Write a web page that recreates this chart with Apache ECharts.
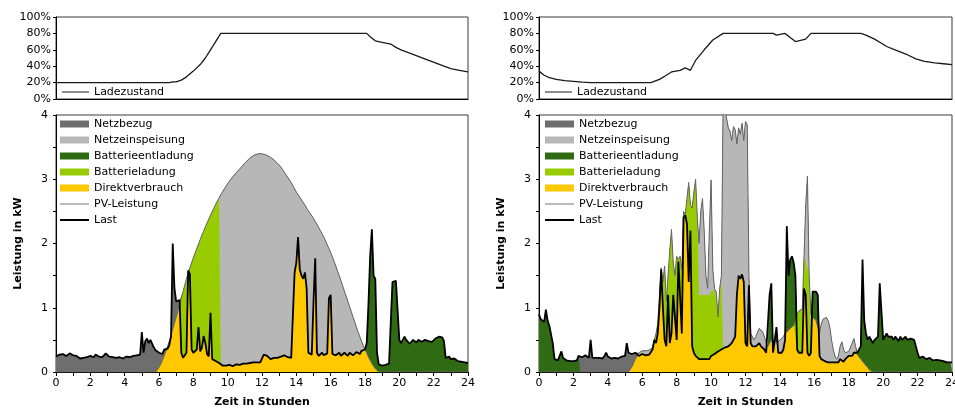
<!DOCTYPE html>
<html><head><meta charset="utf-8">
<script src="https://cdn.jsdelivr.net/npm/echarts@6/dist/echarts.min.js"></script>
<style>html,body{margin:0;padding:0;background:#fff}#c{width:955px;height:409px}</style>
</head><body><div id="c"></div>
<script>
// ---------- DATA (0.1 h resolution, index i -> hour i/10) ----------
const leftLoad = [
0.24,0.25,0.27,0.26,0.28,0.27,0.25,0.28,0.29,0.27,
0.26,0.28,0.25,0.22,0.21,0.23,0.22,0.24,0.23,0.22,
0.25,0.24,0.23,0.27,0.25,0.24,0.26,0.23,0.26,0.29,
0.27,0.24,0.25,0.23,0.24,0.22,0.21,0.23,0.22,0.21,
0.22,0.24,0.25,0.23,0.22,0.25,0.24,0.26,0.24,0.27,
0.62,0.3,0.48,0.52,0.45,0.5,0.47,0.38,0.34,0.33,
0.3,0.31,0.28,0.35,0.34,0.36,0.42,0.55,2.0,1.3,
1.1,1.08,1.12,0.3,0.22,0.25,0.3,1.58,1.52,0.35,
0.3,0.28,0.35,0.7,0.32,0.38,0.56,0.45,0.28,0.24,
0.92,0.2,0.18,0.17,0.15,0.14,0.12,0.1,0.11,0.1,
0.09,0.11,0.1,0.09,0.1,0.12,0.1,0.11,0.12,0.13,
0.12,0.13,0.12,0.14,0.13,0.15,0.14,0.15,0.16,0.15,
0.18,0.27,0.3,0.25,0.22,0.2,0.19,0.22,0.24,0.22,
0.21,0.24,0.22,0.26,0.25,0.23,0.24,0.22,0.25,1.55,
1.7,2.1,1.6,1.5,1.45,1.55,1.3,0.3,0.28,0.27,
1.1,1.77,0.3,0.25,0.27,0.3,0.26,0.28,0.29,1.15,
1.2,0.28,0.3,0.26,0.27,0.3,0.25,0.28,0.3,0.27,
0.25,0.3,0.28,0.26,0.29,0.31,0.3,0.28,0.33,0.3,
0.35,0.45,1.05,1.8,2.22,1.5,1.45,0.3,0.12,0.1,
0.1,0.12,0.11,0.12,0.13,0.14,1.4,1.38,1.42,1.45,
0.5,0.45,0.48,0.55,0.5,0.47,0.44,0.47,0.5,0.48,
0.46,0.5,0.52,0.47,0.45,0.5,0.52,0.48,0.5,0.47,
0.5,0.52,0.49,0.55,0.57,0.54,0.48,0.22,0.2,0.24,
0.2,0.18,0.21,0.19,0.17,0.2,0.16,0.15,0.15,0.14,
0.14];

const leftPv = [
0,0,0,0,0,0,0,0,0,0,
0,0,0,0,0,0,0,0,0,0,
0,0,0,0,0,0,0,0,0,0,
0,0,0,0,0,0,0,0,0,0,
0,0,0,0,0,0,0,0,0,0,
0,0,0,0,0,0,0,0,0,0.02,
0.07,0.12,0.18,0.25,0.32,0.4,0.48,0.57,0.66,0.76,
0.85,0.95,1.05,1.15,1.25,1.35,1.45,1.54,1.62,1.7,
1.78,1.85,1.92,1.99,2.06,2.13,2.19,2.26,2.32,2.38,
2.44,2.5,2.55,2.61,2.66,2.71,2.76,2.8,2.85,2.89,
2.93,2.97,3.0,3.04,3.07,3.1,3.13,3.16,3.19,3.22,
3.25,3.28,3.3,3.33,3.35,3.37,3.38,3.39,3.4,3.4,
3.4,3.39,3.38,3.37,3.36,3.34,3.32,3.3,3.28,3.25,
3.22,3.19,3.15,3.11,3.07,3.03,2.99,2.95,2.9,2.85,
2.8,2.76,2.72,2.68,2.64,2.6,2.55,2.51,2.47,2.43,
2.39,2.34,2.3,2.25,2.2,2.15,2.1,2.04,1.98,1.92,
1.86,1.79,1.72,1.65,1.57,1.5,1.42,1.34,1.26,1.18,
1.1,1.02,0.94,0.86,0.78,0.7,0.62,0.55,0.48,0.41,
0.35,0.29,0.23,0.18,0.13,0.09,0.05,0.02,0,0,
0,0,0,0,0,0,0,0,0,0,
0,0,0,0,0,0,0,0,0,0,
0,0,0,0,0,0,0,0,0,0,
0,0,0,0,0,0,0,0,0,0,
0,0,0,0,0,0,0,0,0,0,
0];

const rightLoad = [
0.9,0.82,0.8,0.78,0.97,0.8,0.72,0.7,0.45,0.2,
0.2,0.18,0.2,0.32,0.22,0.2,0.18,0.17,0.17,0.16,
0.17,0.16,0.18,0.25,0.24,0.23,0.25,0.26,0.24,0.22,
0.5,0.22,0.2,0.22,0.24,0.22,0.2,0.21,0.25,0.3,
0.24,0.22,0.21,0.23,0.22,0.2,0.21,0.22,0.24,0.23,
0.25,0.45,0.3,0.27,0.28,0.26,0.3,0.28,0.25,0.27,
0.28,0.3,0.26,0.25,0.27,0.3,0.35,0.5,0.45,0.6,
1.0,1.6,1.0,0.5,0.4,1.2,0.45,0.6,1.2,1.2,
0.5,1.72,1.7,0.6,2.4,2.44,2.3,1.4,2.2,0.4,
0.3,0.25,0.22,0.2,0.18,0.2,0.22,0.2,0.18,0.2,
0.25,0.22,0.28,0.3,0.32,0.3,0.35,0.36,0.38,0.37,
0.4,0.42,0.45,0.5,0.55,1.2,1.5,1.45,1.52,1.4,
0.45,0.4,1.35,0.45,0.4,0.38,0.4,0.42,0.45,0.4,
0.38,0.35,0.3,0.32,1.2,1.38,0.3,0.28,0.7,0.3,
0.28,0.3,0.35,0.5,2.27,1.5,1.75,1.8,1.7,1.5,
0.35,0.3,0.32,0.3,1.3,1.2,0.3,0.25,0.3,1.25,
1.24,1.25,1.2,0.25,0.2,0.18,0.17,0.18,0.15,0.16,
0.15,0.14,0.15,0.13,0.15,0.2,0.18,0.16,0.2,0.22,
0.25,0.28,0.25,0.3,0.28,0.3,0.35,0.4,1.75,0.8,
0.6,0.5,0.55,0.5,0.45,0.5,0.48,0.55,1.38,1.36,
0.5,0.55,0.6,0.55,0.58,0.55,0.5,0.55,0.52,0.48,
0.55,0.5,0.52,0.55,0.5,0.47,0.52,0.55,0.5,0.48,
0.3,0.22,0.2,0.24,0.22,0.2,0.23,0.22,0.2,0.18,
0.2,0.19,0.17,0.18,0.2,0.17,0.16,0.15,0.16,0.15,
0.15];

const rightPv = [
0,0,0,0,0,0,0,0,0,0,
0,0,0,0,0,0,0,0,0,0,
0,0,0,0,0,0,0,0,0,0,
0,0,0,0,0,0,0,0,0,0,
0,0,0,0,0,0,0,0,0,0,
0,0,0,0.03,0.08,0.14,0.2,0.25,0.3,0.32,
0.33,0.34,0.33,0.35,0.34,0.36,0.38,0.5,0.6,0.75,
1.2,1.62,1.4,1.65,1.1,1.5,1.9,2.22,1.7,1.5,
1.8,1.75,1.8,1.6,2.5,2.45,2.7,2.95,2.6,2.55,
2.8,3.0,2.4,2.0,2.5,2.7,2.2,1.5,1.3,2.2,
2.99,1.6,1.3,1.25,0.86,1.3,1.5,4.2,4.1,3.95,
3.8,3.75,3.6,3.82,3.77,3.55,3.8,3.7,3.87,3.6,
3.9,3.85,1.5,0.6,0.55,0.5,0.55,0.62,0.68,0.67,
0.62,0.55,0.45,0.4,0.45,0.5,0.45,0.5,0.45,0.48,
0.5,0.5,0.55,0.6,0.62,0.65,0.68,0.7,0.72,0.75,
0.9,0.95,0.92,0.98,1.8,2.6,3.05,1.5,0.9,0.85,
0.82,0.8,0.7,0.6,0.75,0.82,0.84,0.85,0.8,0.7,
0.5,0.35,0.25,0.2,0.25,0.4,0.47,0.35,0.3,0.3,
0.32,0.35,0.45,0.52,0.4,0.27,0.24,0.2,0.17,0.13,
0.1,0.07,0.03,0,0,0,0,0,0,0,
0,0,0,0,0,0,0,0,0,0,
0,0,0,0,0,0,0,0,0,0,
0,0,0,0,0,0,0,0,0,0,
0,0,0,0,0,0,0,0,0,0,
0];

// battery operating windows: [start h, end h, max charge kW] / [start h, end h]
const leftChargeWindows = [[5.5, 9.6, 9]];
const leftDischargeWindows = [[17.95, 24.1]];
const rightChargeWindows = [[6.6, 9.25, 9], [9.25, 10.65, 1.0], [14.95, 15.35, 9], [15.35, 15.55, 0.5], [15.55, 15.75, 1.4]];
const rightDischargeWindows = [[0, 2.35], [6.9, 24.1]];

// state of charge (hour, %)
const leftSocHours = [0,6.6,6.8,7.0,7.3,7.6,8.0,8.4,8.7,9.0,9.3,9.6,18.1,18.3,18.6,19.0,19.5,19.8,20.1,20.6,21.1,21.6,22.1,22.6,23.0,23.5,24];
const leftSoc      = [20,20,21,21,23,27,34,42,50,60,70,80,80,76,71,69,67,63,60,56,52,48,44,40,37,35,33];
const rightSocHours = [0,0.3,0.6,1.0,1.5,2.0,2.5,3.0,6.5,7.0,7.4,7.7,8.2,8.5,8.8,9.1,9.6,10.1,10.7,13.6,13.8,14.3,14.9,15.5,15.8,18.7,19.0,19.5,19.9,20.2,20.8,21.4,21.9,22.4,23.0,23.5,24];
const rightSoc      = [34,29,26,24,22.5,21.5,20.5,20,20,24,29,33,35,38,35,47,60,72,80,80,78,80,70,73,80,80,78,73,68,64,59,54,49,46,44,43,42];

const hourLabels = [0,2,4,6,8,10,12,14,16,18,20,22,24];
const percentLabels = [0,20,40,60,80,100];
const kwLabels = [0,1,2,3,4];

// ---------- BUILD ----------
const time = leftLoad.map((_, i) => i / 10);
function inWin(t, wins){ for (const w of wins) if (t >= w[0] - 1e-9 && t < w[1] - 1e-9) return w; return null; }
// cumulative upper edges of the five energy-flow bands
function bands(pv, load, chW, disW){
  const o = {direkt:[], laden:[], einsp:[], entl:[], bezug:[]};
  for (let i = 0; i < pv.length; i++){
    const t = time[i];
    const d = Math.min(pv[i], load[i]);
    const sur = pv[i] - d, def = load[i] - d;
    const cw = inWin(t, chW);
    const ch = cw ? Math.min(sur, cw[2]) : 0;
    const dis = inWin(t, disW) ? def : 0;
    const c1 = d, c2 = c1 + ch, c3 = c2 + (sur - ch), c4 = c3 + dis, c5 = c4 + (def - dis);
    o.direkt.push([t, c1]); o.laden.push([t, c2]); o.einsp.push([t, c3]); o.entl.push([t, c4]); o.bezug.push([t, c5]);
  }
  return o;
}
const C = {bezug:'#6e6e6e', einsp:'#b7b7b7', entl:'#2f6b12', laden:'#99cc00', direkt:'#ffc800', pv:'#666666', last:'#000000'};
const FONT = 'DejaVu Sans';

function panelSeries(pv, load, chW, disW, idx){
  const s = bands(pv, load, chW, disW);
  let z = 2;
  const area = (name, data, color) => ({name, type:'line', xAxisIndex:idx, yAxisIndex:idx, data, symbol:'none', showSymbol:false, color,
    lineStyle:{width:0, color}, itemStyle:{color}, areaStyle:{color, opacity:1, origin:'start'}, emphasis:{disabled:true}, z:z++, silent:true});
  return [
    area('Netzbezug', s.bezug, C.bezug),
    area('Batterieentladung', s.entl, C.entl),
    area('Netzeinspeisung', s.einsp, C.einsp),
    area('Batterieladung', s.laden, C.laden),
    area('Direktverbrauch', s.direkt, C.direkt),
    {name:'PV-Leistung', type:'line', xAxisIndex:idx, yAxisIndex:idx, data: pv.map((v,i)=>[time[i], v]), symbol:'none', showSymbol:false, color:C.pv,
      lineStyle:{width:1, color:C.pv}, z:10, silent:true},
    {name:'Last', type:'line', xAxisIndex:idx, yAxisIndex:idx, data: load.map((v,i)=>[time[i], v]), symbol:'none', showSymbol:false, color:C.last,
      lineStyle:{width:1.8, color:C.last}, z:11, silent:true}
  ];
}
function socSeries(h, v, idx){
  return {name:'Ladezustand', type:'line', xAxisIndex:idx, yAxisIndex:idx, data: h.map((x,i)=>[x, v[i]]), symbol:'none', showSymbol:false, color:'#1a1a1a',
    lineStyle:{width:1.3, color:'#1a1a1a'}, z:3, silent:true};
}

const lbl = {fontFamily:FONT, fontSize:11, color:'#000'};
function xAx(grid, bottom){
  return {type:'value', gridIndex:grid, min:0, max:24, interval:1,
    axisLine:{show:true, onZero:false, lineStyle:{color:'#000', width:1}},
    axisTick:{show:bottom, length:4, lineStyle:{color:'#000'}},
    axisLabel:{show:bottom, ...lbl, margin:6, formatter: v => hourLabels.includes(v) ? String(v) : ''},
    splitLine:{show:false},
    name: bottom ? 'Zeit in Stunden' : '', nameLocation:'middle', nameGap:25,
    nameTextStyle:{fontFamily:FONT, fontSize:11, fontWeight:'bold', color:'#000'}};
}
function yAxSoc(grid){
  return {type:'value', gridIndex:grid, min:0, max:100, interval:20,
    axisLine:{show:true, lineStyle:{color:'#000'}}, axisTick:{show:true, length:3, lineStyle:{color:'#000'}},
    axisLabel:{...lbl, margin:5, formatter: v => percentLabels.includes(v) ? v + '%' : ''}, splitLine:{show:false}};
}
function yAxKw(grid){
  return {type:'value', gridIndex:grid, min:0, max:4, interval:0.5,
    axisLine:{show:true, lineStyle:{color:'#000'}}, axisTick:{show:true, length:3, lineStyle:{color:'#000'}},
    axisLabel:{...lbl, margin:8, formatter: v => kwLabels.includes(v) ? String(v) : ''}, splitLine:{show:false},
    name:'Leistung in kW', nameLocation:'middle', nameGap:32, nameRotate:90,
    nameTextStyle:{fontFamily:FONT, fontSize:11, fontWeight:'bold', color:'#000'}};
}
// line-style legend icons (transparent frame keeps the path box the full item height)
const LINE_ICON_THICK = 'path://M0,0 L29,0 L29,0.001 L0,0.001 Z M0,2.6 L29,2.6 L29,4.4 L0,4.4 Z M0,6.999 L29,6.999 L29,7 L0,7 Z';
const LINE_ICON_THIN  = 'path://M0,0 L29,0 L29,0.001 L0,0.001 Z M0,2.9 L29,2.9 L29,4.1 L0,4.1 Z M0,6.999 L29,6.999 L29,7 L0,7 Z';
const noBorder = {borderWidth:0, borderColor:'transparent'};
const legendItems = [
  {name:'Netzbezug', icon:'rect', itemStyle:{color:C.bezug, ...noBorder}},
  {name:'Netzeinspeisung', icon:'rect', itemStyle:{color:C.einsp, ...noBorder}},
  {name:'Batterieentladung', icon:'rect', itemStyle:{color:C.entl, ...noBorder}},
  {name:'Batterieladung', icon:'rect', itemStyle:{color:C.laden, ...noBorder}},
  {name:'Direktverbrauch', icon:'rect', itemStyle:{color:C.direkt, ...noBorder}},
  {name:'PV-Leistung', icon:LINE_ICON_THIN, itemStyle:{color:'#777777', ...noBorder}},
  {name:'Last', icon:LINE_ICON_THICK, itemStyle:{color:'#000', ...noBorder}}
];
function bigLegend(left){
  return {orient:'vertical', left, top:112, data:legendItems, itemWidth:29, itemHeight:7, itemGap:2, selectedMode:false,
    itemStyle:noBorder, lineStyle:{width:0},
    textStyle:{fontFamily:FONT, fontSize:11, color:'#000', lineHeight:14}};
}
function socLegend(left){
  return {left, top:80, data:[{name:'Ladezustand', icon:LINE_ICON_THIN, itemStyle:{color:'#1a1a1a', ...noBorder}}], itemWidth:27, itemHeight:7, selectedMode:false,
    itemStyle:noBorder, lineStyle:{width:0},
    textStyle:{fontFamily:FONT, fontSize:11, color:'#000', lineHeight:14}};
}
const gridBase = {show:true, borderColor:'#3a3a3a', borderWidth:1, backgroundColor:'transparent', containLabel:false, outerBoundsMode:'none'};

const chart = echarts.init(document.getElementById('c'), null, {renderer:'canvas'});
chart.setOption({
  animation:false,
  backgroundColor:'#fff',
  grid:[
    {...gridBase, left:56, top:17, width:412, height:82},
    {...gridBase, left:56, top:115, width:412, height:257},
    {...gridBase, left:539, top:17, width:413, height:82},
    {...gridBase, left:539, top:115, width:413, height:257}
  ],
  xAxis:[xAx(0,false), xAx(1,true), xAx(2,false), xAx(3,true)],
  yAxis:[yAxSoc(0), yAxKw(1), yAxSoc(2), yAxKw(3)],
  legend:[socLegend(57), bigLegend(55), socLegend(540), bigLegend(540)],
  series:[
    socSeries(leftSocHours, leftSoc, 0),
    ...panelSeries(leftPv, leftLoad, leftChargeWindows, leftDischargeWindows, 1),
    socSeries(rightSocHours, rightSoc, 2),
    ...panelSeries(rightPv, rightLoad, rightChargeWindows, rightDischargeWindows, 3)
  ]
});
</script></body></html>
